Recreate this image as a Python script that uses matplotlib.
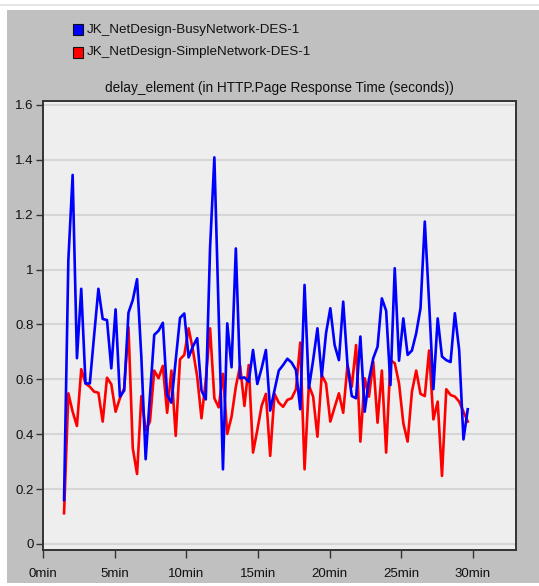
import numpy as np
import matplotlib
matplotlib.use("Agg")
import matplotlib.pyplot as plt
from matplotlib.patches import Rectangle

plt.rcParams['font.family'] = ['Liberation Sans', 'DejaVu Sans']

# sample times (minutes): one sample every 18 s
t_start = 1.45
t_step = 0.3

busy = [0.16, 1.035, 1.345, 0.677, 0.93, 0.585, 0.585, 0.76, 0.93, 0.82,
        0.816, 0.64, 0.855, 0.537, 0.559, 0.843, 0.889, 0.965, 0.68, 0.309,
        0.54, 0.762, 0.777, 0.806, 0.543, 0.515, 0.67, 0.824, 0.84, 0.68,
        0.72, 0.75, 0.559, 0.527, 1.08, 1.409, 0.84, 0.272, 0.804, 0.644,
        1.077, 0.604, 0.607, 0.591, 0.707, 0.583, 0.64, 0.707, 0.486, 0.56,
        0.632, 0.652, 0.675, 0.661, 0.634, 0.491, 0.944, 0.567, 0.67, 0.786,
        0.61, 0.768, 0.859, 0.725, 0.67, 0.883, 0.652, 0.539, 0.531, 0.756,
        0.482, 0.6, 0.677, 0.719, 0.895, 0.85, 0.579, 1.005, 0.668, 0.822,
        0.689, 0.705, 0.768, 0.859, 1.175, 0.88, 0.564, 0.822, 0.683, 0.67,
        0.663, 0.841, 0.707, 0.381, 0.491]

simple = [0.112, 0.549, 0.482, 0.43, 0.637, 0.585, 0.573, 0.555, 0.551, 0.446,
          0.606, 0.582, 0.482, 0.531, 0.567, 0.79, 0.349, 0.255, 0.539, 0.415,
          0.446, 0.632, 0.604, 0.649, 0.478, 0.632, 0.394, 0.673, 0.689, 0.786,
          0.707, 0.61, 0.458, 0.598, 0.786, 0.531, 0.498, 0.62, 0.401, 0.464,
          0.573, 0.649, 0.503, 0.652, 0.333, 0.415, 0.503, 0.547, 0.321, 0.547,
          0.515, 0.5, 0.525, 0.531, 0.564, 0.734, 0.272, 0.579, 0.537, 0.391,
          0.616, 0.585, 0.446, 0.498, 0.549, 0.478, 0.652, 0.573, 0.725, 0.373,
          0.604, 0.537, 0.664, 0.442, 0.632, 0.333, 0.67, 0.659, 0.585, 0.44,
          0.373, 0.555, 0.632, 0.547, 0.539, 0.705, 0.454, 0.519, 0.248, 0.564,
          0.543, 0.537, 0.519, 0.482, 0.446]

series_names = ["JK_NetDesign-BusyNetwork-DES-1", "JK_NetDesign-SimpleNetwork-DES-1"]
series_colors = ["#0000ff", "#ff0000"]

x_ticks = [0, 5, 10, 15, 20, 25, 30]
x_labels = ["%dmin" % m for m in x_ticks]
y_ticks = [0, 0.2, 0.4, 0.6, 0.8, 1, 1.2, 1.4, 1.6]
y_labels = ["0", "0.2", "0.4", "0.6", "0.8", "1", "1.2", "1.4", "1.6"]

W, H = 539, 586
fig = plt.figure(figsize=(W / 100, H / 100), dpi=100, facecolor="white")

# grey panel behind everything
panel = Rectangle((7 / W, 3 / H), 532 / W, 573 / H,
                  transform=fig.transFigure, facecolor="#c0c0c0",
                  edgecolor="none", zorder=-10)
fig.add_artist(panel)
fig.add_artist(plt.Line2D([0, 1], [1 - 5 / H, 1 - 5 / H],
                          transform=fig.transFigure, color="#e2e2e2",
                          lw=1.2, zorder=-9))

ax = fig.add_axes([43.3 / W, 36 / H, 472.4 / W, 449.3 / H])
ax.set_facecolor("#eeeeee")

t = t_start + t_step * np.arange(len(busy))
ax.plot(t, simple, color=series_colors[1], lw=1.9, zorder=3)
ax.plot(t, busy, color=series_colors[0], lw=1.9, zorder=4)

ax.set_xlim(0, 33.0)
ax.set_ylim(-0.022, 1.6155)
ax.set_xticks(x_ticks)
ax.set_xticklabels(x_labels)
ax.set_yticks(y_ticks)
ax.set_yticklabels(y_labels)
ax.yaxis.grid(True, color="#d6d6d6", lw=1.5)
ax.set_axisbelow(True)

for s in ax.spines.values():
    s.set_color("#333333")
    s.set_linewidth(1.4)
ax.tick_params(axis="y", length=5, width=1, color="#333333", pad=2,
               labelsize=9.5, labelcolor="#111111")
ax.tick_params(axis="x", length=6, width=1, color="#333333", pad=7,
               labelsize=9.5, labelcolor="#111111")

ax.set_title("delay_element (in HTTP.Page Response Time (seconds))",
             fontsize=9.8, color="#111111", pad=6)

# legend: coloured squares with series names
for i, (name, col) in enumerate(zip(series_names, series_colors)):
    yc = 1 - (29.5 + 23 * i) / H
    fig.add_artist(Rectangle((73 / W, yc - 5.5 / H), 10 / W, 11 / H,
                             transform=fig.transFigure, facecolor=col,
                             edgecolor="#111111", lw=0.8))
    fig.text(87 / W, yc, name, fontsize=9.6, color="#111111",
             va="center", ha="left")

fig.savefig("out.png", dpi=100, facecolor="white")
